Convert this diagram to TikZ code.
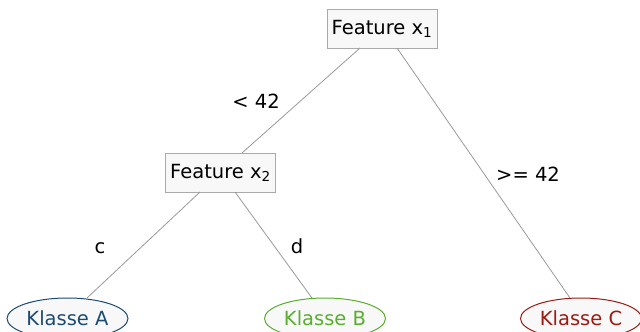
\documentclass[tikz,border=0pt]{standalone}
\usepackage{fontspec}
\setmainfont{DejaVu Sans}
\usetikzlibrary{shapes.geometric}
\definecolor{edgegray}{HTML}{999999}
\definecolor{boxgray}{HTML}{AAAAAA}
\definecolor{boxfill}{HTML}{F8F8F8}
\definecolor{clsA}{HTML}{1B4A72}
\definecolor{clsB}{HTML}{5AAD2E}
\definecolor{clsC}{HTML}{9A1B12}
\begin{document}
\begin{tikzpicture}[x=1pt,y=1pt,
  featbox/.style={draw=boxgray,fill=boxfill,line width=0.8pt,minimum width=110pt,minimum height=39pt,inner sep=0pt,font=\fontsize{19.5}{22}\selectfont},
  classnode/.style={ellipse,fill=boxfill,line width=1pt,minimum width=121pt,minimum height=41pt,inner sep=0pt,font=\fontsize{19.5}{22}\selectfont},
  edge/.style={draw=edgegray,line width=0.8pt},
  elabel/.style={font=\fontsize{19.5}{22}\selectfont,inner sep=0pt,anchor=base}]
\useasboundingbox (0,0) rectangle (640,-332);
\node[featbox] (f1) at (382,-28.5) {Feature x\textsubscript{1}};
\node[featbox] (f2) at (220.5,-172.5) {Feature x\textsubscript{2}};
\node[classnode,draw=clsA,text=clsA] (ka) at (67.5,-318.5) {Klasse A};
\node[classnode,draw=clsB,text=clsB] (kb) at (325,-318.5) {Klasse B};
\node[classnode,draw=clsC,text=clsC] (kc) at (581,-318.5) {Klasse C};
\coordinate (f1a) at (360,-48);
\coordinate (f1b) at (397,-48);
\coordinate (f2a) at (200,-192);
\coordinate (f2b) at (235,-192);
\coordinate (f2t) at (242,-153);
\coordinate (kat) at (87,-298);
\coordinate (kbt) at (312,-298);
\coordinate (kct) at (570,-298);
\draw[edge] (f1a) -- (f2t);
\draw[edge] (f1b) -- (kct);
\draw[edge] (f2a) -- (kat);
\draw[edge] (f2b) -- (kbt);
\node[elabel] (l1) at (256,-108.5) {< 42};
\node[elabel] (l2) at (528,-181) {>= 42};
\node[elabel] (l3) at (100,-253) {c};
\node[elabel] (l4) at (297,-253) {d};
\end{tikzpicture}
\end{document}
